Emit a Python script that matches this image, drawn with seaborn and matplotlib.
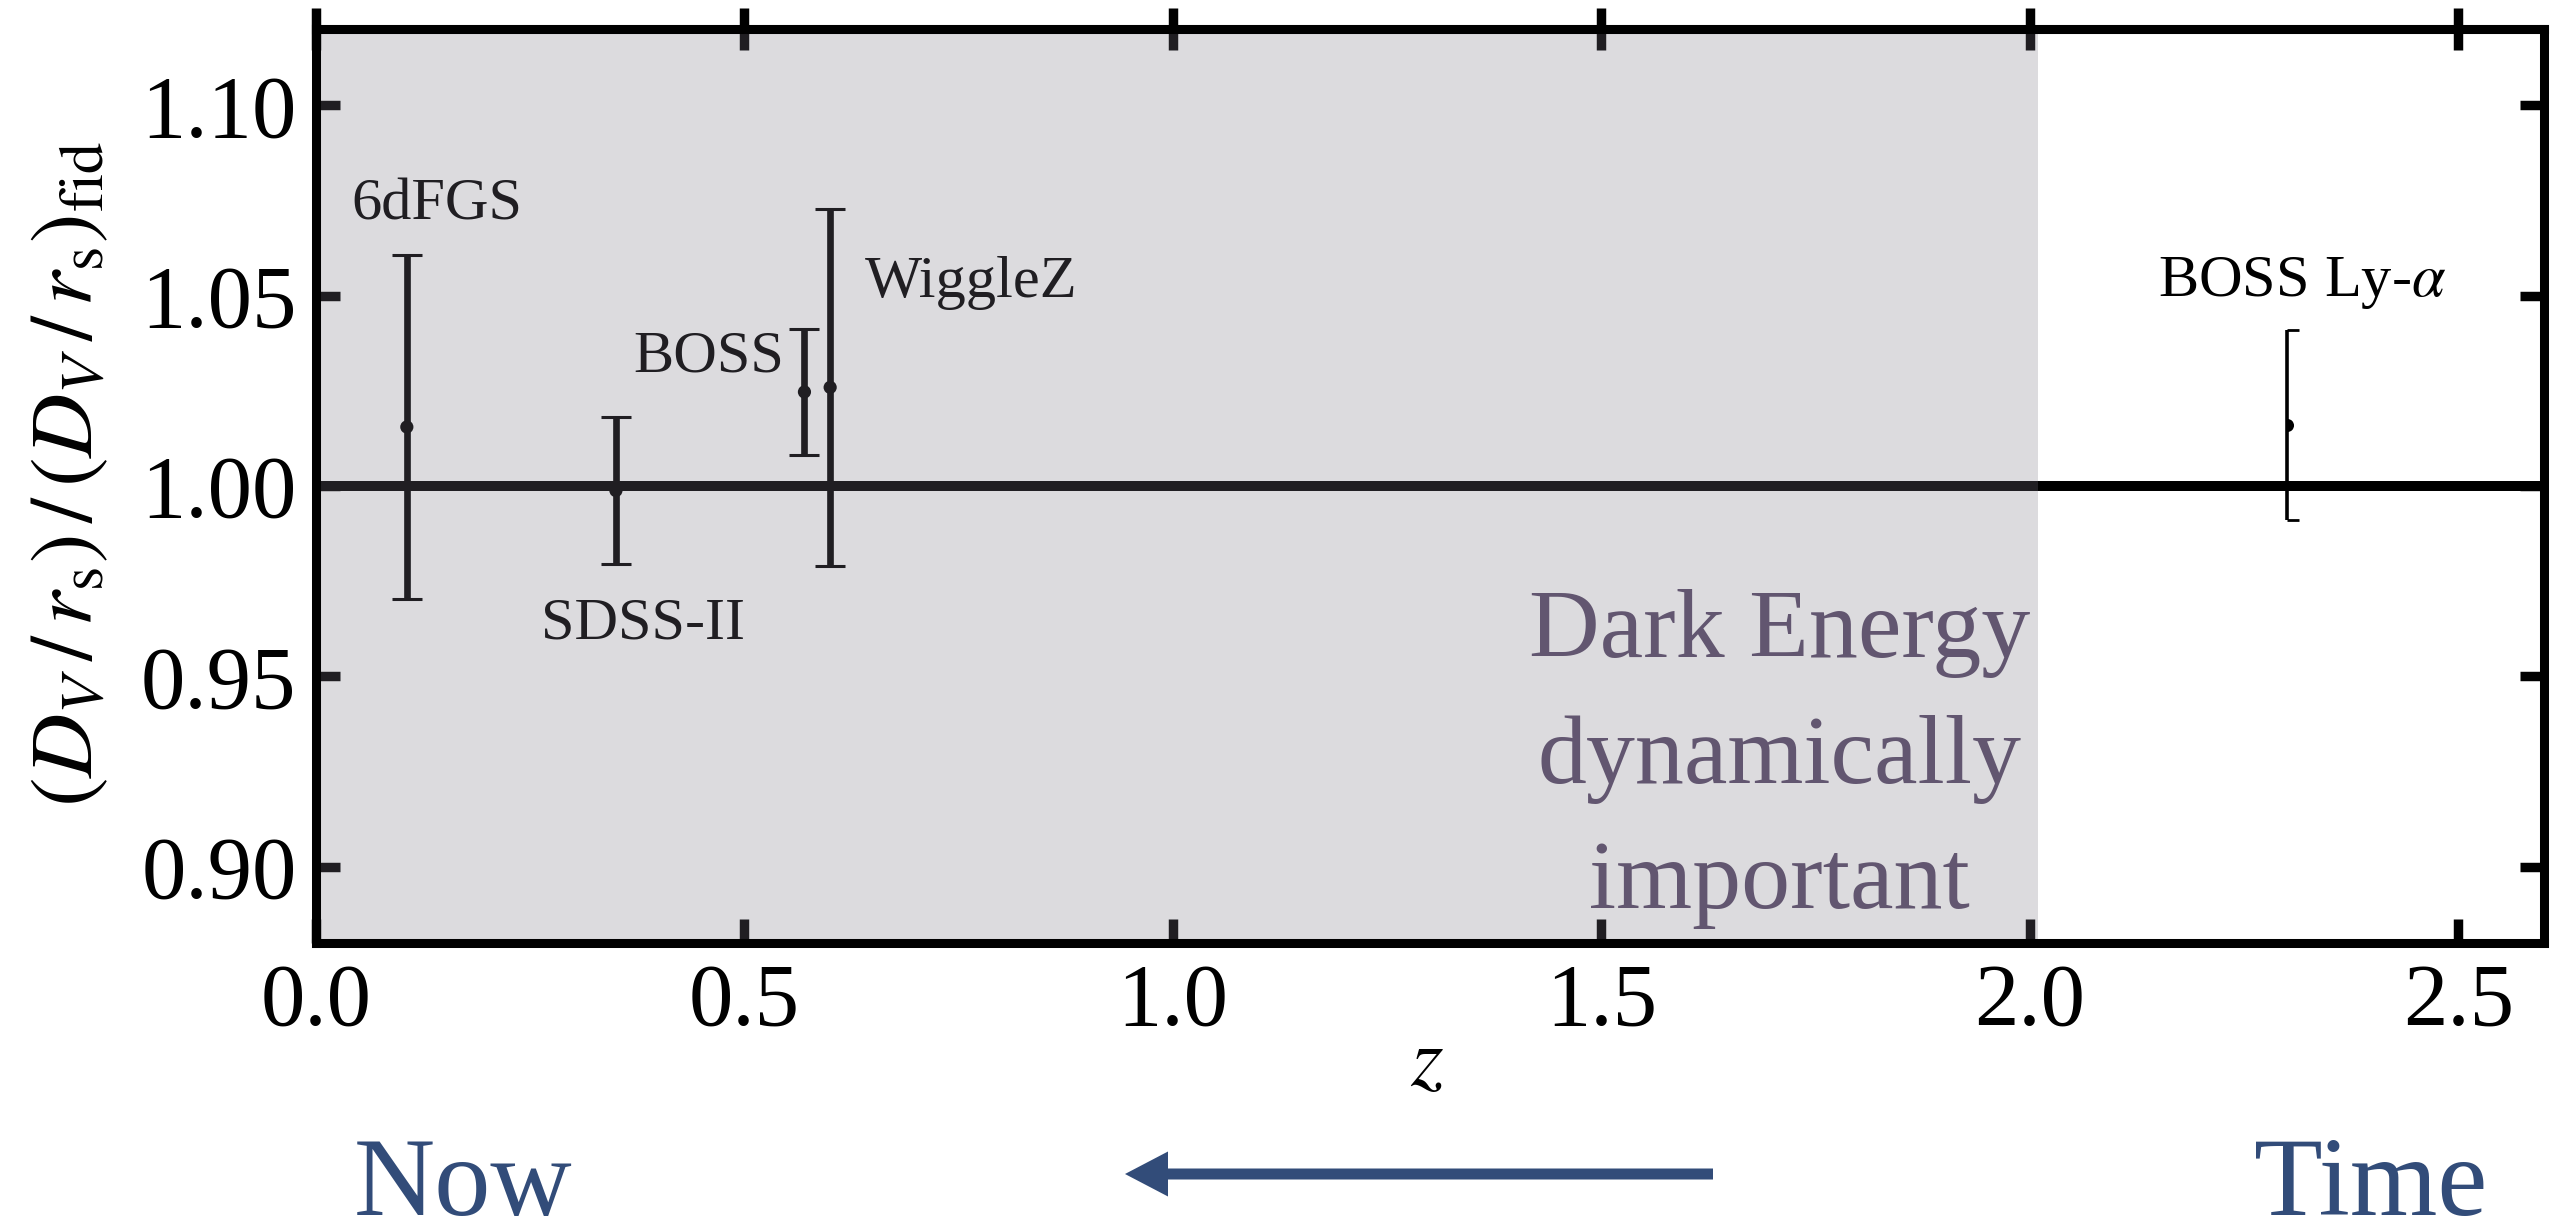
import numpy as np
import pandas as pd
import matplotlib
matplotlib.use("Agg")
import matplotlib.pyplot as plt
import seaborn as sns
from matplotlib.markers import MarkerStyle
from matplotlib.path import Path

# ---------------- data ----------------
surveys = ["6dFGS", "SDSS-II", "BOSS", "WiggleZ"]
z_main = [0.106, 0.35, 0.57, 0.60]
ratio_main = [1.0155, 0.9988, 1.0247, 1.0259]
err_main = [0.0452, 0.0193, 0.0166, 0.0469]

lya_label = r"BOSS Ly-$\alpha$"
z_lya = [2.30]
ratio_lya = [1.016]
err_lya = [0.025]

fiducial = 1.0
de_range = [0.0, 2.01]
de_lines = ["Dark Energy", "dynamically", "important"]

x_ticks = [0.0, 0.5, 1.0, 1.5, 2.0, 2.5]
x_ticklabels = ["0.0", "0.5", "1.0", "1.5", "2.0", "2.5"]
y_ticks = [0.90, 0.95, 1.00, 1.05, 1.10]
y_ticklabels = ["0.90", "0.95", "1.00", "1.05", "1.10"]

# ---------------- style ----------------
sns.set_theme(style="ticks")
plt.rcParams["font.family"] = ["Liberation Serif", "DejaVu Serif"]
plt.rcParams["mathtext.fontset"] = "stix"

W, H = 2550, 1226
fig = plt.figure(figsize=(W / 100, H / 100), dpi=100)
left, right, top, bottom = 316 / W, 2544 / W, 1 - 29 / H, 1 - 943 / H
ax = fig.add_axes([left, bottom, right - left, top - bottom])

df = pd.DataFrame({"survey": surveys, "z": z_main, "ratio": ratio_main, "err": err_main})

# fiducial line
ax.axhline(fiducial, color="black", lw=7.2, zorder=1.8)

# main error bars
ax.errorbar(df["z"], df["ratio"], yerr=df["err"], fmt="none", ecolor="black",
            elinewidth=4.8, capsize=10.8, capthick=2.2, zorder=2)
sns.scatterplot(data=df, x="z", y="ratio", color="black", s=9.5 ** 2,
                marker="o", edgecolor="none", zorder=2.1, ax=ax, legend=False)

# Ly-alpha point (thin, half caps)
eb = ax.errorbar(z_lya, ratio_lya, yerr=err_lya, fmt="none", ecolor="black",
                 elinewidth=2.6, capsize=6, capthick=2.0, zorder=2)
half_cap = MarkerStyle(Path([(0, 0), (1, 0)], [Path.MOVETO, Path.LINETO]))
for cap in eb.lines[1]:
    cap.set_marker(half_cap)
    cap.set_markersize(17)
    cap.set_markeredgewidth(2.0)
ax.plot(z_lya, ratio_lya, linestyle="none",
        marker=MarkerStyle("o", fillstyle="right"), markersize=9.4,
        markerfacecolor="black", markerfacecoloralt="none",
        markeredgecolor="none", zorder=2.1)

# labels
lab_pos = {"6dFGS": (0.041, 1.0699), "SDSS-II": (0.263, 0.960),
           "BOSS": (0.370, 1.030), "WiggleZ": (0.641, 1.0497)}
for name in surveys:
    x, y = lab_pos[name]
    ax.text(x, y, name, fontsize=43.5, color="black", ha="left",
            va="baseline", zorder=2.2)
ax.text(2.149, 1.0499, lya_label, fontsize=43.5, color="black", ha="left",
        va="baseline", zorder=2.2)

# dark-energy shading (semi-transparent, on top)
ax.axvspan(de_range[0], de_range[1], color="#7a7685", alpha=0.263, lw=0, zorder=3)
for line, yb in zip(de_lines, [0.9551, 0.9220, 0.8892]):
    ax.text(1.708, yb, line, fontsize=70.5, color="#625670", ha="center",
            va="baseline", zorder=4)

# axes
ax.set_xlim(0, 2.6)
ax.set_ylim(0.88, 1.12)
ax.set_xticks(x_ticks)
ax.set_xticklabels(x_ticklabels)
ax.set_yticks(y_ticks)
ax.set_yticklabels(y_ticklabels)
ax.set_facecolor("white")
ax.tick_params(axis="both", which="major", direction="in", width=6.8,
               length=17.6, labelsize=64, color="black", labelcolor="black",
               top=False, right=True, pad=14)
for sp in ax.spines.values():
    sp.set_linewidth(6.5)
    sp.set_color("black")
    sp.set_zorder(5)
ax.set_xlabel("")
ax.set_ylabel("")

sec = ax.secondary_xaxis("top")
sec.set_xticks(x_ticks)
sec.tick_params(direction="inout", length=30, width=6.8, labeltop=False,
                color="black")
sec.spines["top"].set_linewidth(6.5)

# axis labels
fig.text(71 / W, 1 - 474 / H,
         r"$(D_V\,/\,r_{\rm s})\,/\,(D_V\,/\,r_{\rm s})_{\rm fid}$",
         rotation=90, ha="center", va="center", fontsize=64, color="black")
fig.text(1427 / W, 1 - 1085 / H, r"$z$", ha="center", va="baseline",
         fontsize=60, color="black")

# time arrow
blue = "#324c79"
fig.text(354 / W, 1 - 1215 / H, "Now", fontsize=81, color=blue, ha="left",
         va="baseline")
fig.text(2254 / W, 1 - 1215 / H, "Time", fontsize=81, color=blue, ha="left",
         va="baseline")
ax.annotate("", xy=(1125, H - 1174), xytext=(1713, H - 1174),
            xycoords="figure pixels", textcoords="figure pixels",
            arrowprops=dict(arrowstyle="simple,head_length=0.43,head_width=0.45,tail_width=0.11",
                            mutation_scale=72, color=blue, shrinkA=0, shrinkB=0, lw=0),
            annotation_clip=False)

fig.savefig("out.png", dpi=100)
